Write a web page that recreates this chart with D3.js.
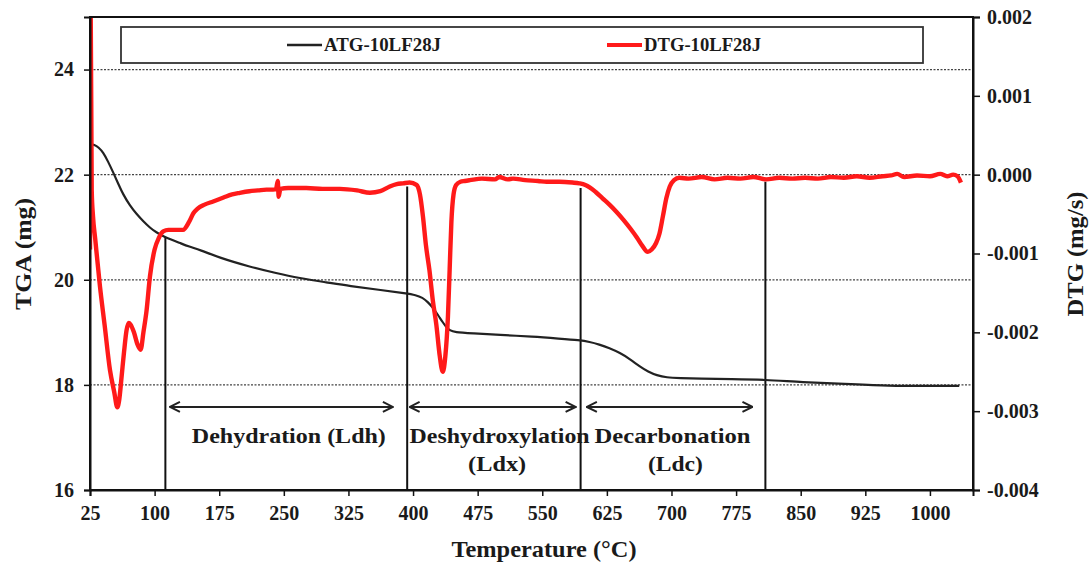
<!DOCTYPE html>
<html>
<head>
<meta charset="utf-8">
<script src="https://cdn.jsdelivr.net/npm/d3@7"></script>
<style>
  body { margin: 0; background: #fff; }
  svg text { font-family: "Liberation Serif", Tinos, "Times New Roman", "DejaVu Serif", serif; font-weight: bold; fill: #1a1a1a; }
</style>
</head>
<body>
<script>
// TGA curve (mass in mg against temperature in °C)
const tgaTemp = [25, 30, 35, 40.4, 46, 52, 58, 63.6, 71, 79, 87, 94.6, 102, 110, 120, 129.4, 140, 152.6, 175, 210, 240, 268, 300, 327, 360, 393, 403, 411, 417, 423, 429, 434.5, 439, 442.5, 448, 469, 500, 539, 570, 593, 605, 616, 628, 640, 652, 663, 673, 683, 694, 710, 732, 770, 808, 852, 900, 953, 1000, 1034];
const tgaMass = [22.58, 22.57, 22.52, 22.42, 22.25, 22.04, 21.82, 21.62, 21.42, 21.25, 21.11, 20.99, 20.9, 20.83, 20.76, 20.7, 20.63, 20.57, 20.42, 20.25, 20.13, 20.03, 19.95, 19.88, 19.81, 19.74, 19.71, 19.66, 19.58, 19.47, 19.33, 19.19, 19.09, 19.04, 19.0, 18.98, 18.95, 18.92, 18.88, 18.85, 18.82, 18.77, 18.7, 18.61, 18.49, 18.35, 18.25, 18.18, 18.14, 18.13, 18.12, 18.11, 18.1, 18.05, 18.02, 17.98, 17.98, 17.98];

// DTG curve (mg/s against temperature in °C)
const dtgTemp = [25, 25.8, 27, 28.5, 31, 36.6, 42, 48.2, 53, 56.7, 59, 61.7, 64.5, 67.5, 70, 72, 76, 80, 83.8, 87, 90.7, 94.6, 100, 105, 110, 116, 124, 133, 140, 145, 150, 158, 168, 180, 190, 199, 210, 220, 230, 237.6, 241, 243, 244, 246, 255, 276, 295, 315, 335, 350, 362, 373, 381, 388.4, 396, 404, 408, 411.5, 415, 419, 423, 427, 431, 434.5, 437.5, 440.5, 442.5, 444.5, 447, 450, 455, 460, 466, 480, 495, 500, 510, 516, 530, 545, 555, 570, 585, 593, 600, 605, 612, 620, 628, 636, 644, 652, 660, 666, 672.5, 677, 682, 686, 690, 694, 698, 703, 709, 720, 735, 750, 765, 780, 795, 810, 825, 840, 855, 870, 885, 900, 915, 930, 945, 955, 962, 970, 985, 1000, 1012, 1020, 1027, 1032, 1036];
const dtgRate = [-0.00095, 0.0021, -0.0002, -0.00053, -0.00081, -0.00142, -0.00191, -0.00248, -0.00275, -0.00295, -0.00285, -0.00256, -0.00225, -0.00197, -0.00188, -0.0019, -0.002, -0.00215, -0.00222, -0.002, -0.00172, -0.00129, -0.00095, -0.0008, -0.00072, -0.0007, -0.0007, -0.0007, -0.0006, -0.00049, -0.00043, -0.00038, -0.00034, -0.00029, -0.00025, -0.00023, -0.00021, -0.0002, -0.00019, -0.00019, -0.00018, -0.00008, -0.00028, -0.00018, -0.00017, -0.00017, -0.00018, -0.00018, -0.0002, -0.00023, -0.00021, -0.00015, -0.00012, -0.00011, -0.0001, -0.00013, -0.00025, -0.00053, -0.0009, -0.00121, -0.0016, -0.0019, -0.0023, -0.0025, -0.0023, -0.0018, -0.0012, -0.0006, -0.00025, -0.00013, -0.00009, -0.00008, -0.00007, -0.00005, -0.00006, -0.00003, -0.00006, -0.00005, -0.00007, -0.00008, -0.00009, -0.00009, -0.0001, -0.00011, -0.00013, -0.00016, -0.00022, -0.0003, -0.00038, -0.00047, -0.00057, -0.00068, -0.0008, -0.0009, -0.00098, -0.00095, -0.00087, -0.00075, -0.00053, -0.0003, -0.00015, -0.00007, -0.00004, -0.00005, -0.00003, -0.00006, -0.00004, -0.00005, -0.00003, -0.00006, -0.00004, -0.00005, -0.00004, -0.00005, -0.00003, -0.00004, -0.00002, -0.00004, -0.00002, -0.00001, 0.00001, -0.00003, -0.00001, -0.00002, 0.00001, -0.00002, 0.0, -0.00002, -0.0001];

// axis ticks
const tempTicks = [25, 100, 175, 250, 325, 400, 475, 550, 625, 700, 775, 850, 925, 1000];
const massTicks = [16, 18, 20, 22, 24];
const rateTicks = [-0.004, -0.003, -0.002, -0.001, 0, 0.001, 0.002];

// zone boundaries (vertical lines), top of each line given on the DTG scale
const boundTemp = [112.5, 393.2, 594.5, 809];
const boundTop = [-0.00079, -0.00015, -0.00017, -0.00009];

// double arrows for each zone, drawn at one mass level
const arrowFrom = [117.8, 396, 601.8];
const arrowTo = [376.6, 588.7, 794];
const arrowMass = 17.58;

// zone labels
const zoneLines1 = ["Dehydration (Ldh)", "Deshydroxylation", "Decarbonation"];
const zoneLines2 = ["", "(Ldx)", "(Ldc)"];
const zoneTemp1 = [255.8, 500.5, 701.2];
const zoneTemp2 = [255.8, 497.6, 704.6];

const seriesNames = ["ATG-10LF28J", "DTG-10LF28J"];

const W = 1090, H = 565;
const mLeft = 90, mRight = 973, mTop = 17, mBottom = 490;

// text widths taken from the figure (the serif face of the original is narrow)
const zoneWidth1 = [194, 180, 156];
const zoneWidth2 = [0, 58, 55];

const svg = d3.select("body")
  .append("svg")
  .attr("width", W)
  .attr("height", H);

const x = d3.scaleLinear().domain([25, 1050]).range([mLeft, mRight]);
const yMass = d3.scaleLinear().domain([16, 25]).range([mBottom, mTop]);
const yRate = d3.scaleLinear().domain([-0.004, 0.002]).range([mBottom, mTop]);

svg.append("clipPath")
  .attr("id", "plot")
  .append("rect")
  .attr("x", mLeft)
  .attr("y", mTop)
  .attr("width", mRight - mLeft)
  .attr("height", mBottom - mTop);

// dashed grid lines from the mass axis
svg.append("g")
  .selectAll("line")
  .data(massTicks.slice(1))
  .join("line")
  .attr("x1", mLeft)
  .attr("x2", mRight)
  .attr("y1", d => yMass(d))
  .attr("y2", d => yMass(d))
  .attr("stroke", "#444")
  .attr("stroke-width", 1.2)
  .attr("stroke-dasharray", "2,1.5");

// legend box
svg.append("rect")
  .attr("x", 121)
  .attr("y", 27)
  .attr("width", 802)
  .attr("height", 36)
  .attr("fill", "#fff")
  .attr("stroke", "#333")
  .attr("stroke-width", 1.8);

const legendX = [287, 607];
const legendColors = ["#222", "#ff1a1a"];
const legendWidths = [2.5, 4];
legendX.forEach((lx, i) => {
  svg.append("line")
    .attr("x1", lx)
    .attr("x2", lx + 35)
    .attr("y1", 45)
    .attr("y2", 45)
    .attr("stroke", legendColors[i])
    .attr("stroke-width", legendWidths[i]);
  svg.append("text")
    .attr("x", lx + 37)
    .attr("y", 51)
    .attr("font-size", 18)
    .attr("textLength", 117)
    .attr("lengthAdjust", "spacingAndGlyphs")
    .text(seriesNames[i]);
});

// vertical zone boundaries
svg.append("g")
  .selectAll("line")
  .data(boundTemp)
  .join("line")
  .attr("x1", d => x(d))
  .attr("x2", d => x(d))
  .attr("y1", mBottom)
  .attr("y2", (d, i) => yRate(boundTop[i]))
  .attr("stroke", "#111")
  .attr("stroke-width", 2);

// curves
const tgaData = tgaTemp.map((t, i) => [t, tgaMass[i]]);
const dtgData = dtgTemp.map((t, i) => [t, dtgRate[i]]);

svg.append("path")
  .datum(tgaData)
  .attr("clip-path", "url(#plot)")
  .attr("fill", "none")
  .attr("stroke", "#222")
  .attr("stroke-width", 2.2)
  .attr("d", d3.line().x(d => x(d[0])).y(d => yMass(d[1])).curve(d3.curveBasis));

svg.append("path")
  .datum(dtgData)
  .attr("clip-path", "url(#plot)")
  .attr("fill", "none")
  .attr("stroke", "#ff1a1a")
  .attr("stroke-width", 4.4)
  .attr("stroke-linejoin", "round")
  .attr("d", d3.line().x(d => x(d[0])).y(d => yRate(d[1])).curve(d3.curveMonotoneX));

// arrows
svg.append("defs")
  .append("marker")
  .attr("id", "head")
  .attr("viewBox", "0 0 12 12")
  .attr("refX", 11)
  .attr("refY", 6)
  .attr("markerWidth", 12)
  .attr("markerHeight", 12)
  .attr("markerUnits", "userSpaceOnUse")
  .attr("orient", "auto-start-reverse")
  .append("path")
  .attr("d", "M1,1 L11,6 L1,11")
  .attr("fill", "none")
  .attr("stroke", "#222")
  .attr("stroke-width", 2);

svg.append("g")
  .selectAll("line")
  .data(arrowFrom)
  .join("line")
  .attr("x1", d => x(d))
  .attr("x2", (d, i) => x(arrowTo[i]))
  .attr("y1", yMass(arrowMass))
  .attr("y2", yMass(arrowMass))
  .attr("stroke", "#222")
  .attr("stroke-width", 2)
  .attr("marker-start", "url(#head)")
  .attr("marker-end", "url(#head)");

// zone labels
svg.append("g")
  .selectAll("text")
  .data(zoneLines1)
  .join("text")
  .attr("x", (d, i) => x(zoneTemp1[i]))
  .attr("y", yMass(16.9))
  .attr("text-anchor", "middle")
  .attr("font-size", 22)
  .attr("textLength", (d, i) => zoneWidth1[i])
  .attr("lengthAdjust", "spacingAndGlyphs")
  .text(d => d);

svg.append("g")
  .selectAll("text")
  .data(zoneLines2.filter(d => d))
  .join("text")
  .attr("x", (d, i) => x(zoneTemp2[i + 1]))
  .attr("y", yMass(16.36))
  .attr("text-anchor", "middle")
  .attr("font-size", 22)
  .attr("textLength", (d, i) => zoneWidth2[i + 1])
  .attr("lengthAdjust", "spacingAndGlyphs")
  .text(d => d);

// frame on top
svg.append("rect")
  .attr("x", mLeft)
  .attr("y", mTop)
  .attr("width", mRight - mLeft)
  .attr("height", mBottom - mTop)
  .attr("fill", "none")
  .attr("stroke", "#111")
  .attr("stroke-width", 2);

// axes
const xAxis = svg.append("g")
  .attr("transform", `translate(0,${mBottom})`)
  .call(d3.axisBottom(x).tickValues(tempTicks).tickSize(6).tickPadding(10).tickFormat(d3.format("d")));

const yAxisL = svg.append("g")
  .attr("transform", `translate(${mLeft},0)`)
  .call(d3.axisLeft(yMass).tickValues(massTicks).tickSize(6).tickPadding(10));

const yAxisR = svg.append("g")
  .attr("transform", `translate(${mRight},0)`)
  .call(d3.axisRight(yRate).tickValues(rateTicks).tickSize(7).tickPadding(7).tickFormat(d => d.toFixed(3)));

[xAxis, yAxisL, yAxisR].forEach(g => {
  g.attr("font-family", null);
  g.select(".domain").attr("stroke", "#111").attr("stroke-width", 2);
  g.selectAll(".tick line").attr("stroke", "#111").attr("stroke-width", 1.5);
  g.selectAll(".tick text")
    .attr("font-size", 20)
    .attr("fill", "#1a1a1a");
});

// axis titles
svg.append("text")
  .attr("x", 544)
  .attr("y", 557)
  .attr("text-anchor", "middle")
  .attr("font-size", 24)
  .attr("textLength", 185)
  .attr("lengthAdjust", "spacingAndGlyphs")
  .text("Temperature (°C)");

svg.append("text")
  .attr("transform", "translate(31,254) rotate(-90)")
  .attr("text-anchor", "middle")
  .attr("font-size", 24)
  .attr("textLength", 112)
  .attr("lengthAdjust", "spacingAndGlyphs")
  .text("TGA (mg)");

svg.append("text")
  .attr("transform", "translate(1083,254) rotate(-90)")
  .attr("text-anchor", "middle")
  .attr("font-size", 24)
  .attr("textLength", 125)
  .attr("lengthAdjust", "spacingAndGlyphs")
  .text("DTG (mg/s)");
</script>
</body>
</html>
